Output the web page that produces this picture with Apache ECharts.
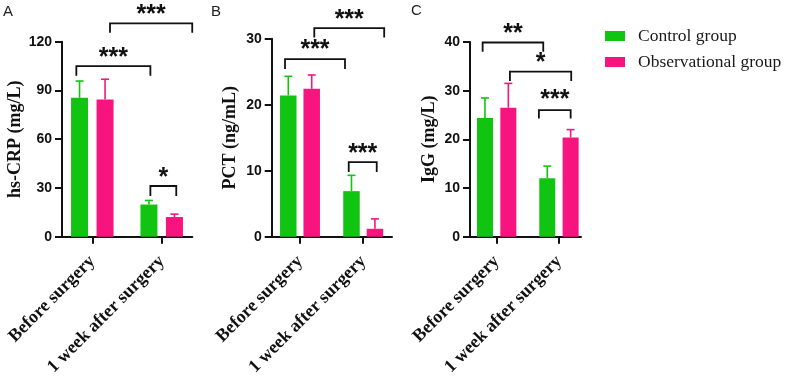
<!DOCTYPE html>
<html>
<head>
<meta charset="utf-8">
<script src="https://cdn.jsdelivr.net/npm/echarts@6/dist/echarts.min.js"></script>
<style>
  html, body { margin: 0; padding: 0; background: #fff; }
  #chart { width: 787px; height: 381px; }
</style>
</head>
<body>
<div id="chart"></div>
<script>
// categories on every x axis
const categories = ['Before surgery', '1 week after surgery'];

// A: hs-CRP (mg/L), mean and upper error
const crpControl = [85.5, 19.8];
const crpControlErr = [10.3, 2.5];
const crpObserv = [84.5, 12.1];
const crpObservErr = [12.4, 1.8];
const crpTicks = [0, 30, 60, 90, 120];

// B: PCT (ng/mL)
const pctControl = [21.4, 6.9];
const pctControlErr = [2.9, 2.4];
const pctObserv = [22.4, 1.2];
const pctObservErr = [2.1, 1.5];
const pctTicks = [0, 10, 20, 30];

// C: IgG (mg/L)
const iggControl = [24.4, 12.0];
const iggControlErr = [4.1, 2.5];
const iggObserv = [26.5, 20.4];
const iggObservErr = [5.0, 1.6];
const iggTicks = [0, 10, 20, 30, 40];

// significance brackets: [cat from, offset, cat to, offset, line y, end y, star y]
const crpSig = [[0, -0.23, 1, -0.163, 105, 99, 113], [0, 0.255, 1, 0.44, 131.3, 125.5, 139.5], [1, -0.163, 1, 0.21, 31.2, 25.1, 39.4]];
const crpSigText = ['***', '***', '*'];
const pctSig = [[0, -0.237, 1, -0.288, 26.9, 25.4, 29], [0, 0.226, 1, 0.332, 31.6, 30.2, 33.6], [1, -0.229, 1, 0.214, 11.3, 9.8, 13.3]];
const pctSigText = ['***', '***', '***'];
const iggSig = [[0, -0.225, 1, -0.252, 39.9, 38.0, 42.6], [0, 0.213, 1, 0.197, 33.9, 32.0, 36.6], [1, -0.322, 1, 0.188, 26.0, 24.3, 29.0]];
const iggSigText = ['**', '*', '***'];

const GREEN = '#12c412';
const PINK = '#f8147f';
const SERIF = '"Liberation Serif", "Times New Roman", serif';
const SANS = '"Liberation Sans", Arial, sans-serif';

let myChart = echarts.init(document.getElementById('chart'));

let grid = [], xAxis = [], yAxis = [], series = [];

function errorRender(shift, color) {
    return function (params, api) {
        let base = api.coord([api.value(0), api.value(1)]);
        let top = api.coord([api.value(0), api.value(1) + api.value(2)]);
        let x = base[0] + shift;
        return {
            type: 'group',
            children: [
                {type: 'line', shape: {x1: x, y1: base[1], x2: x, y2: top[1]}, style: {stroke: color, lineWidth: 1.6}},
                {type: 'line', shape: {x1: x - 4, y1: top[1], x2: x + 4, y2: top[1]}, style: {stroke: color, lineWidth: 1.6}}
            ]
        };
    };
}

function sigRender(rows, texts) {
    return function (params, api) {
        let r = rows[params.dataIndex];
        let bw = api.size([1, 0])[0];
        let x0 = api.coord([r[0], r[4]])[0] + r[1] * bw;
        let x1 = api.coord([r[2], r[4]])[0] + r[3] * bw;
        let yl = api.coord([0, r[4]])[1];
        let ye = api.coord([0, r[5]])[1];
        let ym = api.coord([0, r[6]])[1];
        return {
            type: 'group',
            children: [
                {type: 'polyline', shape: {points: [[x0, ye], [x0, yl], [x1, yl], [x1, ye]]}, style: {stroke: '#111', lineWidth: 1.8, fill: 'none'}},
                {type: 'text', style: {text: texts[params.dataIndex], x: (x0 + x1) / 2, y: ym + 5, align: 'center', verticalAlign: 'middle', font: 'bold 25px ' + SANS, fill: '#111'}}
            ]
        };
    };
}

// one panel = frame grid (axis lines, y ticks) + data grid (bars, category ticks)
function addPanel(p) {
    let fi = grid.length, di = fi + 1;
    grid.push({left: p.frameLeft, width: p.frameWidth, top: p.top, height: 236.7 - p.top});
    grid.push({left: p.dataLeft, width: p.dataWidth, top: p.top, height: 236.7 - p.top});
    let ymin = p.ticks[0], ymax = p.ticks[p.ticks.length - 1], step = p.ticks[1] - p.ticks[0];

    xAxis.push({
        gridIndex: fi, type: 'value', min: 0, max: 1,
        axisLine: {show: true, lineStyle: {color: '#111', width: 2}},
        axisTick: {show: false}, axisLabel: {show: false}, splitLine: {show: false}
    });
    yAxis.push({
        gridIndex: fi, type: 'value', min: ymin, max: ymax, interval: step,
        name: p.name, nameLocation: 'middle', nameGap: p.nameGap,
        nameTextStyle: {fontFamily: SERIF, fontWeight: 'bold', fontSize: 18, color: '#111'},
        axisLine: {show: true, lineStyle: {color: '#111', width: 2}},
        axisTick: {show: true, length: 7, lineStyle: {color: '#111', width: 2}},
        axisLabel: {margin: 10, fontFamily: SANS, fontWeight: 'bold', fontSize: 14, color: '#111'},
        splitLine: {show: false}
    });
    xAxis.push({
        gridIndex: di, type: 'category', data: categories,
        axisLine: {show: false},
        axisTick: {show: true, alignWithLabel: true, length: 7, lineStyle: {color: '#111', width: 2}},
        axisLabel: {rotate: 45, margin: 22, interval: 0, fontFamily: SERIF, fontWeight: 'bold', fontSize: 18, color: '#111'}
    });
    yAxis.push({gridIndex: di, type: 'value', min: ymin, max: ymax, show: false});

    let shift = p.barWidth * (1 + p.gap) / 2;
    series.push({
        name: 'Control group', type: 'bar', xAxisIndex: di, yAxisIndex: di,
        barWidth: p.barWidth, barGap: (p.gap * 100) + '%', itemStyle: {color: GREEN}, data: p.control
    });
    series.push({
        name: 'Observational group', type: 'bar', xAxisIndex: di, yAxisIndex: di,
        barWidth: p.barWidth, barGap: (p.gap * 100) + '%', itemStyle: {color: PINK}, data: p.observ
    });
    series.push({
        type: 'custom', xAxisIndex: di, yAxisIndex: di, renderItem: errorRender(-shift, GREEN),
        data: p.control.map((v, i) => [i, v, p.controlErr[i]])
    });
    series.push({
        type: 'custom', xAxisIndex: di, yAxisIndex: di, renderItem: errorRender(shift, PINK),
        data: p.observ.map((v, i) => [i, v, p.observErr[i]])
    });
    series.push({
        type: 'custom', xAxisIndex: di, yAxisIndex: di, clip: false, renderItem: sigRender(p.sig, p.sigText),
        data: p.sig.map(r => [r[0], ymin])
    });
}

addPanel({
    frameLeft: 62, frameWidth: 130.3, dataLeft: 57.6, dataWidth: 138.8, top: 41.7,
    ticks: crpTicks, name: 'hs-CRP (mg/L)', nameGap: 36,
    barWidth: 17, gap: 0.5,
    control: crpControl, controlErr: crpControlErr, observ: crpObserv, observErr: crpObservErr,
    sig: crpSig, sigText: crpSigText
});
addPanel({
    frameLeft: 271.7, frameWidth: 120.3, dataLeft: 268.4, dataWidth: 126.4, top: 38.7,
    ticks: pctTicks, name: 'PCT (ng/mL)', nameGap: 32,
    barWidth: 16.5, gap: 0.42,
    control: pctControl, controlErr: pctControlErr, observ: pctObserv, observErr: pctObservErr,
    sig: pctSig, sigText: pctSigText
});
addPanel({
    frameLeft: 470, frameWidth: 111, dataLeft: 465.5, dataWidth: 124.6, top: 42,
    ticks: iggTicks, name: 'IgG (mg/L)', nameGap: 32,
    barWidth: 16, gap: 0.46,
    control: iggControl, controlErr: iggControlErr, observ: iggObserv, observErr: iggObservErr,
    sig: iggSig, sigText: iggSigText
});

myChart.setOption({
    animation: false,
    grid: grid,
    xAxis: xAxis,
    yAxis: yAxis,
    legend: {
        data: ['Control group', 'Observational group'],
        orient: 'vertical', left: 605, top: 27, padding: 0,
        icon: 'rect', itemWidth: 20, itemHeight: 10, itemGap: 8,
        selectedMode: false,
        textStyle: {fontFamily: SERIF, fontSize: 17.5, color: '#1a1a1a', padding: [0, 0, 0, 8]}
    },
    graphic: [
        {type: 'text', left: 3, top: 4, style: {text: 'A', font: '15px ' + SANS, fill: '#222'}},
        {type: 'text', left: 211, top: 4, style: {text: 'B', font: '15px ' + SANS, fill: '#222'}},
        {type: 'text', left: 411, top: 3, style: {text: 'C', font: '15px ' + SANS, fill: '#222'}}
    ],
    series: series
});
</script>
</body>
</html>
